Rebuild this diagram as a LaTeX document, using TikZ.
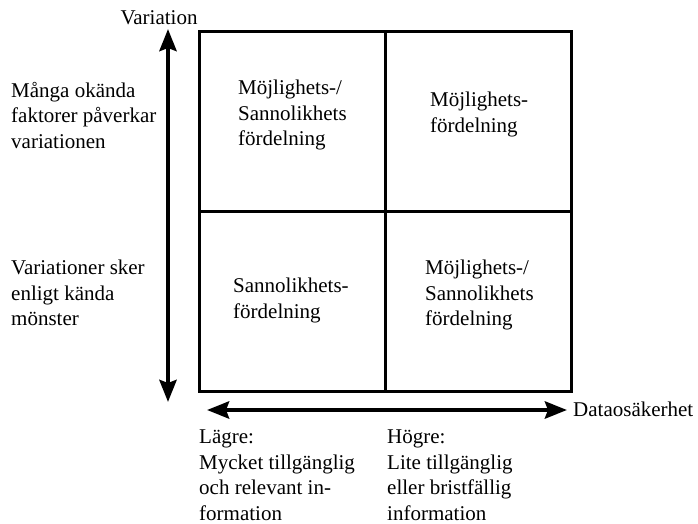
\documentclass[tikz,border=0pt]{standalone}
\usepackage{fontspec}
\setmainfont{Liberation Serif}
\usetikzlibrary{arrows.meta}
\tikzset{
  lbl/.style={anchor=north west, inner sep=0pt, align=left, font=\fontsize{21}{25.5}\selectfont},
  gridline/.style={line width=3pt, line cap=rect},
  axis/.style={line width=4.2pt, {Stealth[length=22pt,width=17pt,inset=3pt]}-{Stealth[length=22pt,width=17pt,inset=3pt]}}
}
\begin{document}
\begin{tikzpicture}[x=1pt,y=-1pt]
\useasboundingbox (0,0) rectangle (698,524);
% grid
\draw[gridline] (199,32) rectangle (571,391);
\draw[gridline] (385,32) -- (385,391);
\draw[gridline] (199,211) -- (571,211);
% axes
\coordinate (vtop) at (168,29);
\coordinate (vbot) at (168,402);
\coordinate (hl) at (207,410);
\coordinate (hr) at (567,410);
\draw[axis] (vtop) -- (vbot);
\draw[axis] (hl) -- (hr);
% labels
\node[lbl, anchor=base] (var) at (159,25) {Variation};
\node[lbl] (ltop) at (11,82) {Många okända\\faktorer påverkar\\variationen};
\node[lbl] (lbot) at (11,260) {Variationer sker\\enligt kända\\mönster};
\node[lbl, anchor=base west] (dos) at (573,416) {Dataosäkerhet};
\node[lbl] (low) at (199,430) {Lägre:\\Mycket tillgänglig\\och relevant in-\\formation};
\node[lbl] (high) at (387,430) {Högre:\\Lite tillgänglig\\eller bristfällig\\information};
% cells
\node[lbl] (c11) at (238,80) {Möjlighets-/\\Sannolikhets\\fördelning};
\node[lbl] (c12) at (430,92) {Möjlighets-\\fördelning};
\node[lbl] (c21) at (233,278) {Sannolikhets-\\fördelning};
\node[lbl] (c22) at (425,260) {Möjlighets-/\\Sannolikhets\\fördelning};
\end{tikzpicture}
\end{document}
